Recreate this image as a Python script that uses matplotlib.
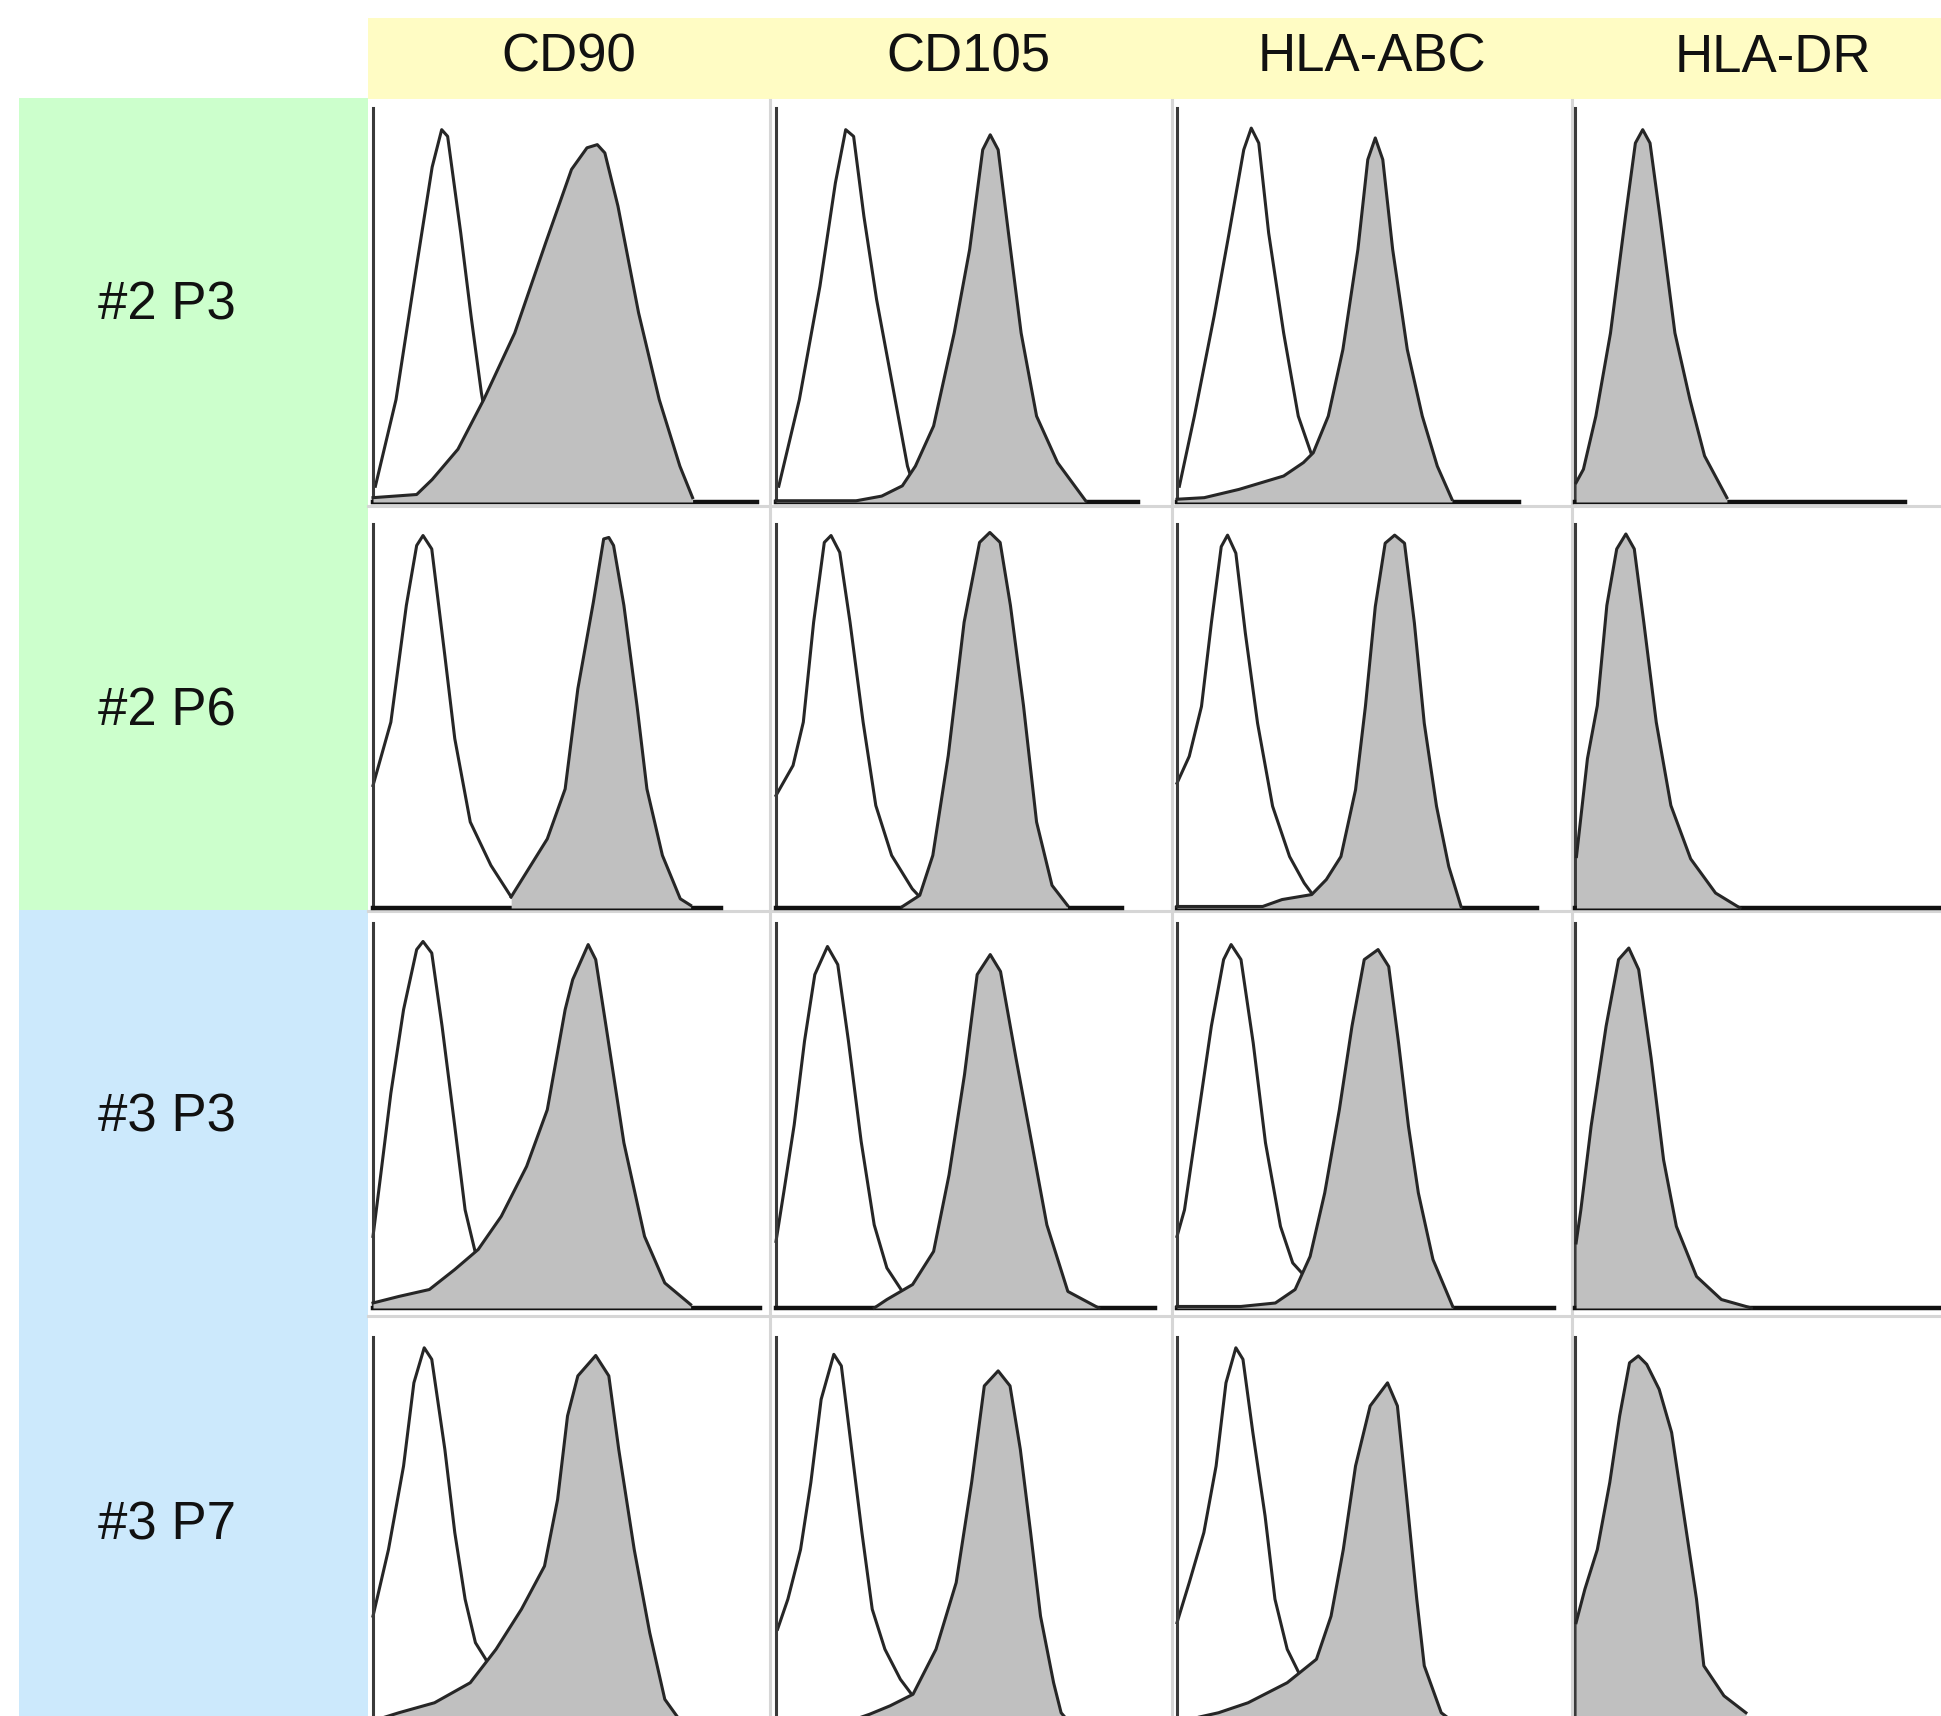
import numpy as np
import matplotlib
matplotlib.use('Agg')
import matplotlib.pyplot as plt
from matplotlib.patches import Rectangle

# Flow cytometry histograms: marker columns x sample rows
markers = ['CD90', 'CD105', 'HLA-ABC', 'HLA-DR']
samples = ['#2 P3', '#2 P6', '#3 P3', '#3 P7']

# curves: x = fraction of panel width, y = fraction of peak axis height
# one (x, y) pair per sample row
cd90_isotype = [
    ([0.006, 0.058, 0.11, 0.149, 0.173, 0.188, 0.221, 0.247, 0.273, 0.305, 0.331],
     [0.04, 0.26, 0.6, 0.85, 0.945, 0.928, 0.683, 0.472, 0.277, 0.091, 0.007]),
    ([0, 0.045, 0.084, 0.11, 0.126, 0.148, 0.181, 0.206, 0.245, 0.297, 0.348],
     [0.319, 0.484, 0.788, 0.944, 0.97, 0.935, 0.657, 0.441, 0.224, 0.111, 0.029]),
    ([0, 0.019, 0.045, 0.077, 0.11, 0.126, 0.148, 0.174, 0.206, 0.232, 0.258, 0.297],
     [0.186, 0.342, 0.558, 0.775, 0.931, 0.952, 0.922, 0.732, 0.472, 0.255, 0.143, 0.039]),
    ([0, 0.039, 0.077, 0.103, 0.129, 0.148, 0.181, 0.206, 0.232, 0.258, 0.284, 0.323],
     [0.275, 0.448, 0.665, 0.881, 0.972, 0.942, 0.708, 0.492, 0.319, 0.206, 0.163, 0.059]),
]
cd90_stained = [
    ([0, 0.11, 0.149, 0.214, 0.279, 0.357, 0.435, 0.5, 0.539, 0.565, 0.584, 0.617, 0.669, 0.721, 0.773, 0.805],
     [0.011, 0.019, 0.057, 0.134, 0.26, 0.429, 0.658, 0.844, 0.899, 0.907, 0.886, 0.751, 0.48, 0.26, 0.091, 0.011]),
    ([0.348, 0.439, 0.484, 0.516, 0.555, 0.581, 0.594, 0.606, 0.632, 0.665, 0.69, 0.729, 0.774, 0.8],
     [0.029, 0.18, 0.31, 0.571, 0.796, 0.961, 0.965, 0.944, 0.788, 0.527, 0.31, 0.137, 0.024, 0.007]),
    ([0, 0.065, 0.142, 0.206, 0.265, 0.323, 0.387, 0.439, 0.484, 0.503, 0.542, 0.561, 0.587, 0.632, 0.684, 0.735, 0.8],
     [0.013, 0.03, 0.048, 0.1, 0.152, 0.238, 0.368, 0.515, 0.775, 0.853, 0.944, 0.905, 0.732, 0.429, 0.186, 0.065, 0.009]),
    ([0, 0.065, 0.155, 0.245, 0.31, 0.374, 0.432, 0.465, 0.49, 0.516, 0.561, 0.594, 0.619, 0.658, 0.697, 0.735, 0.774],
     [0.003, 0.024, 0.05, 0.102, 0.189, 0.293, 0.405, 0.578, 0.795, 0.899, 0.952, 0.899, 0.708, 0.448, 0.232, 0.059, 0.003]),
]
cd105_isotype = [
    ([0.007, 0.059, 0.111, 0.15, 0.176, 0.196, 0.222, 0.254, 0.293, 0.332, 0.359],
     [0.04, 0.26, 0.548, 0.81, 0.945, 0.928, 0.725, 0.514, 0.303, 0.091, 0.007]),
    ([0, 0.043, 0.069, 0.095, 0.122, 0.139, 0.161, 0.187, 0.22, 0.252, 0.292, 0.344, 0.363],
     [0.293, 0.371, 0.484, 0.744, 0.952, 0.97, 0.926, 0.744, 0.484, 0.267, 0.137, 0.05, 0.029]),
    ([0, 0.02, 0.046, 0.072, 0.098, 0.13, 0.156, 0.183, 0.215, 0.248, 0.28, 0.319],
     [0.173, 0.303, 0.476, 0.693, 0.866, 0.939, 0.892, 0.693, 0.433, 0.216, 0.104, 0.043]),
    ([0.004, 0.03, 0.062, 0.088, 0.114, 0.146, 0.165, 0.191, 0.217, 0.243, 0.275, 0.314, 0.352],
     [0.241, 0.319, 0.448, 0.622, 0.838, 0.955, 0.925, 0.708, 0.492, 0.293, 0.189, 0.111, 0.059]),
]
cd105_stained = [
    ([0, 0.202, 0.267, 0.319, 0.352, 0.398, 0.45, 0.489, 0.522, 0.541, 0.561, 0.587, 0.619, 0.658, 0.711, 0.782],
     [0.003, 0.003, 0.015, 0.041, 0.091, 0.193, 0.429, 0.641, 0.894, 0.932, 0.894, 0.683, 0.429, 0.218, 0.1, 0.003]),
    ([0.318, 0.363, 0.396, 0.435, 0.475, 0.514, 0.54, 0.566, 0.592, 0.625, 0.658, 0.697, 0.736],
     [0.003, 0.033, 0.137, 0.397, 0.744, 0.952, 0.978, 0.952, 0.788, 0.527, 0.224, 0.059, 0.007]),
    ([0.248, 0.28, 0.345, 0.398, 0.437, 0.476, 0.508, 0.541, 0.567, 0.606, 0.645, 0.684, 0.737, 0.815],
     [0, 0.022, 0.061, 0.147, 0.346, 0.606, 0.866, 0.918, 0.874, 0.649, 0.433, 0.216, 0.043, 0]),
    ([0.18, 0.236, 0.288, 0.346, 0.404, 0.455, 0.494, 0.526, 0.561, 0.591, 0.617, 0.643, 0.668, 0.701, 0.72, 0.74],
     [0, 0.02, 0.042, 0.072, 0.189, 0.362, 0.622, 0.873, 0.912, 0.873, 0.708, 0.492, 0.275, 0.102, 0.024, 0]),
]
hla_abc_isotype = [
    ([0.006, 0.044, 0.094, 0.132, 0.169, 0.188, 0.207, 0.232, 0.27, 0.307, 0.339, 0.37],
     [0.04, 0.218, 0.472, 0.683, 0.894, 0.949, 0.911, 0.683, 0.429, 0.218, 0.125, 0.049]),
    ([0, 0.031, 0.062, 0.087, 0.112, 0.128, 0.149, 0.173, 0.204, 0.242, 0.285, 0.322, 0.347],
     [0.325, 0.395, 0.525, 0.742, 0.941, 0.971, 0.924, 0.716, 0.481, 0.265, 0.134, 0.065, 0.03]),
    ([0, 0.019, 0.05, 0.087, 0.118, 0.137, 0.162, 0.193, 0.224, 0.262, 0.293, 0.324, 0.355],
     [0.186, 0.255, 0.472, 0.732, 0.905, 0.944, 0.905, 0.688, 0.429, 0.212, 0.117, 0.082, 0.022]),
    ([0, 0.031, 0.068, 0.099, 0.124, 0.149, 0.167, 0.192, 0.223, 0.248, 0.279, 0.304, 0.341],
     [0.258, 0.362, 0.492, 0.665, 0.881, 0.972, 0.942, 0.752, 0.535, 0.319, 0.189, 0.137, 0.059]),
]
hla_abc_stained = [
    ([0, 0.069, 0.157, 0.27, 0.32, 0.345, 0.383, 0.42, 0.458, 0.483, 0.502, 0.521, 0.546, 0.583, 0.621, 0.659, 0.696],
     [0.007, 0.011, 0.032, 0.066, 0.1, 0.125, 0.218, 0.387, 0.641, 0.869, 0.924, 0.869, 0.641, 0.387, 0.218, 0.091, 0.007]),
    ([0, 0.217, 0.266, 0.341, 0.378, 0.415, 0.452, 0.477, 0.502, 0.527, 0.551, 0.576, 0.601, 0.626, 0.657, 0.688, 0.719],
     [0.004, 0.004, 0.022, 0.035, 0.074, 0.134, 0.308, 0.525, 0.785, 0.95, 0.971, 0.95, 0.742, 0.481, 0.265, 0.108, 0.004]),
    ([0, 0.162, 0.249, 0.299, 0.337, 0.374, 0.411, 0.443, 0.474, 0.509, 0.536, 0.561, 0.586, 0.611, 0.648, 0.698],
     [0.004, 0.004, 0.013, 0.048, 0.134, 0.299, 0.515, 0.732, 0.905, 0.931, 0.887, 0.688, 0.472, 0.299, 0.126, 0.004]),
    ([0, 0.105, 0.18, 0.279, 0.353, 0.39, 0.421, 0.452, 0.489, 0.533, 0.558, 0.582, 0.607, 0.626, 0.669, 0.7],
     [0, 0.024, 0.05, 0.102, 0.163, 0.275, 0.448, 0.665, 0.821, 0.881, 0.821, 0.578, 0.319, 0.146, 0.024, 0]),
]
hla_dr_isotype = [None, None, None, None]  # hidden under the stained curve
hla_dr_stained = [
    ([0.003, 0.023, 0.057, 0.097, 0.138, 0.165, 0.185, 0.205, 0.232, 0.273, 0.314, 0.354, 0.415],
     [0.049, 0.083, 0.218, 0.429, 0.725, 0.911, 0.945, 0.911, 0.725, 0.429, 0.26, 0.117, 0.011]),
    ([0.004, 0.034, 0.061, 0.087, 0.114, 0.139, 0.162, 0.188, 0.222, 0.262, 0.316, 0.384, 0.451],
     [0.134, 0.389, 0.527, 0.788, 0.935, 0.974, 0.935, 0.744, 0.484, 0.267, 0.128, 0.039, 0]),
    ([0.003, 0.016, 0.044, 0.085, 0.119, 0.147, 0.174, 0.208, 0.242, 0.277, 0.332, 0.4, 0.482],
     [0.169, 0.255, 0.472, 0.732, 0.905, 0.935, 0.879, 0.649, 0.385, 0.212, 0.082, 0.022, 0]),
    ([0.003, 0.027, 0.061, 0.095, 0.122, 0.149, 0.173, 0.196, 0.23, 0.264, 0.298, 0.332, 0.352, 0.407, 0.467],
     [0.258, 0.345, 0.448, 0.622, 0.795, 0.933, 0.951, 0.929, 0.864, 0.752, 0.535, 0.319, 0.146, 0.068, 0.024]),
]

isotype = [cd90_isotype, cd105_isotype, hla_abc_isotype, hla_dr_isotype]
stained = [cd90_stained, cd105_stained, hla_abc_stained, hla_dr_stained]

# where each drawn baseline stops (fraction of panel width), row by row
baseline_end = [
    [0.968, 0.913, 0.866, 0.901],
    [0.877, 0.873, 0.911, 1.0],
    [0.974, 0.958, 0.954, 1.0],
    [1.0, 1.0, 1.0, 1.0],
]

# layout in pixels
W, H = 1941, 1716
col_left = [373, 776, 1177, 1575]
col_right = [770, 1172, 1572, 1941]
row_base = [502, 908, 1308, 1722]
row_height = [394, 384, 385, 385]
header_x = [569, 968, 1372, 1773]
label_y = [306, 712, 1118, 1525]

fig = plt.figure(figsize=(W / 100, H / 100), dpi=100)
fig.patch.set_facecolor('white')

bg = fig.add_axes([0, 0, 1, 1])
bg.set_xlim(0, W)
bg.set_ylim(H, 0)
bg.axis('off')

bg.add_patch(Rectangle((368, 18), W - 368, 81, color='#fffcc4', lw=0))
bg.add_patch(Rectangle((19, 98), 349, 812, color='#ccffcc', lw=0))
bg.add_patch(Rectangle((19, 910), 349, H - 910, color='#cce9fc', lw=0))

# light grid between panels
for x in col_right[:3]:
    bg.plot([x, x], [100, H], color='#d6d6d6', lw=2.2)
for y in [506, 911, 1316]:
    bg.plot([368, W], [y, y], color='#d6d6d6', lw=2.2)

font = ['Liberation Sans', 'DejaVu Sans']
for x, name in zip(header_x, markers):
    bg.text(x, 58, name, ha='center', va='center', fontsize=38, family=font, color='#111111')
for y, name in zip(label_y, samples):
    bg.text(167, y, name, ha='center', va='center', fontsize=38, family=font, color='#111111')

line_col = '#262626'
for r in range(4):
    for c in range(4):
        l, rr = col_left[c], col_right[c]
        b, h = row_base[r], row_height[r]
        ax = fig.add_axes([l / W, 1 - b / H, (rr - l) / W, h / H])
        ax.set_xlim(0, 1)
        ax.set_ylim(0, 1)
        ax.patch.set_alpha(0)
        ax.set_xticks([])
        ax.set_yticks([])
        for s in ['top', 'right']:
            ax.spines[s].set_visible(False)
        ax.spines['left'].set_color('#3a3a3a')
        ax.spines['left'].set_linewidth(2.2)
        ax.spines['bottom'].set_color('#111111')
        ax.spines['bottom'].set_linewidth(3.2)
        ax.spines['bottom'].set_bounds(0, baseline_end[r][c])

        iso = isotype[c][r]
        if iso is not None:
            ax.plot(iso[0], iso[1], color=line_col, lw=2.2, zorder=2,
                    solid_joinstyle='round', clip_on=False)
        sx, sy = stained[c][r]
        ax.fill_between(sx, sy, 0, color='#c0c0c0', lw=0, zorder=3)
        ax.plot(sx, sy, color=line_col, lw=2.2, zorder=4,
                solid_joinstyle='round', clip_on=False)

fig.savefig('out.png', dpi=100)
